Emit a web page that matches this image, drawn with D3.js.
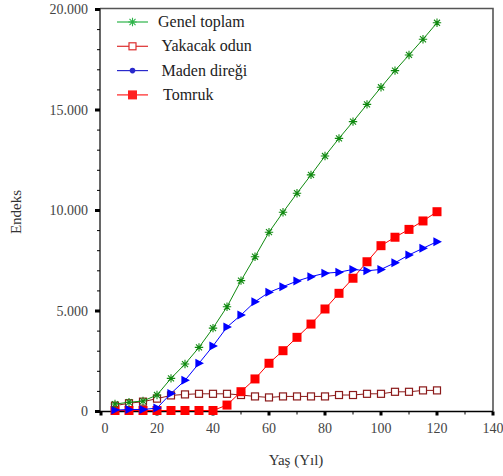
<!DOCTYPE html>
<html>
<head>
<meta charset="utf-8">
<script src="https://cdn.jsdelivr.net/npm/d3@7"></script>
<style>
  body { margin: 0; background: #fff; }
</style>
</head>
<body>
<div id="chart"></div>
<script>
  'use strict';

  var ages = [5, 10, 15, 20, 25, 30, 35, 40, 45, 50, 55, 60,
              65, 70, 75, 80, 85, 90, 95, 100, 105, 110, 115, 120];
  var genelToplam = [370, 460, 520, 820, 1650, 2360, 3190, 4150, 5210, 6510, 7700, 8920,
                     9910, 10860, 11770, 12710, 13590, 14420, 15280, 16130, 16960, 17740, 18520, 19340];
  var yakacakOdun = [290, 410, 490, 640, 800, 850, 880, 880, 880, 820, 750, 700,
                     750, 750, 750, 750, 820, 820, 880, 880, 980, 980, 1050, 1050];
  var madenDiregi = [70, 100, 100, 170, 900, 1550, 2400, 3260, 4200, 4800, 5460, 5930,
                     6210, 6490, 6710, 6880, 6930, 7070, 7000, 7070, 7400, 7790, 8120, 8450];
  var tomruk = [50, 50, 50, 50, 50, 50, 50, 50, 320, 985, 1620, 2400,
                3025, 3690, 4350, 5100, 5880, 6630, 7450, 8250, 8670, 9060, 9480, 9940];

  var xTicks = [0, 20, 40, 60, 80, 100, 120, 140];
  var yTicks = [0, 5000, 10000, 15000, 20000];

  var WIDTH = 503, HEIGHT = 476,
      LEFT = 100, RIGHT = 493, TOP = 9.5, BOTTOM = 411.5,
      FONT = 'Liberation Serif';

  var series = [
    { name: 'Genel toplam', values: genelToplam, color: '#108a10', legendColor: '#2eb44a', marker: 'star' },
    { name: 'Yakacak odun', values: yakacakOdun, color: '#8b1a1a', legendColor: '#dd2e2e', marker: 'openSquare' },
    { name: 'Maden direği', values: madenDiregi, color: '#0000ff', legendColor: '#2a2acc', marker: 'triangle', legendMarker: 'dot' },
    { name: 'Tomruk', values: tomruk, color: '#ff0000', legendColor: '#ff2020', marker: 'square' }
  ];

  var svg = d3.select('#chart').append('svg')
    .attr('width', WIDTH)
    .attr('height', HEIGHT);

  var x = d3.scaleLinear().domain([0, 140]).range([LEFT + 1, RIGHT]);
  var y = d3.scaleLinear().domain([0, 20000]).range([BOTTOM, TOP]);

  var fmt = d3.formatLocale({ decimal: ',', thousands: '.', grouping: [3], currency: ['', ''] }).format(',');

  // frame: top and right sides
  svg.append('path')
    .attr('d', 'M' + LEFT + ',' + (TOP - 1) + 'H' + RIGHT + 'V' + BOTTOM)
    .attr('fill', 'none')
    .attr('stroke', '#555')
    .attr('stroke-width', 1.6);

  // y axis: minor ticks every 1000, major every 5000
  var yAxis = svg.append('g').attr('transform', 'translate(' + LEFT + ',0)');
  yAxis.selectAll('line.minor')
    .data(d3.range(0, 20001, 1000))
    .enter().append('line')
    .attr('x1', -3).attr('x2', 0)
    .attr('y1', function (d) { return y(d); })
    .attr('y2', function (d) { return y(d); })
    .attr('stroke', '#000').attr('stroke-width', 1);
  yAxis.selectAll('rect.major')
    .data(yTicks)
    .enter().append('rect')
    .attr('x', -5).attr('width', 5)
    .attr('y', function (d) { return y(d) - 1.5; })
    .attr('height', 3)
    .attr('fill', '#000');
  yAxis.selectAll('text')
    .data(yTicks)
    .enter().append('text')
    .attr('x', -12)
    .attr('y', function (d) { return y(d); })
    .attr('dy', '0.35em')
    .attr('text-anchor', 'end')
    .attr('font-family', FONT)
    .attr('font-size', 14)
    .attr('fill', '#444')
    .text(function (d) { return fmt(d); });
  yAxis.append('line')
    .attr('x1', 0).attr('x2', 0)
    .attr('y1', TOP - 1).attr('y2', BOTTOM)
    .attr('stroke', '#000').attr('stroke-width', 1.2);

  // x axis
  var xAxis = svg.append('g').attr('transform', 'translate(0,' + BOTTOM + ')');
  xAxis.selectAll('line.minor')
    .data(d3.range(10, 140, 20))
    .enter().append('line')
    .attr('x1', function (d) { return x(d); })
    .attr('x2', function (d) { return x(d); })
    .attr('y1', 0).attr('y2', 3)
    .attr('stroke', '#000').attr('stroke-width', 1);
  xAxis.selectAll('rect.major')
    .data(xTicks)
    .enter().append('rect')
    .attr('x', function (d) { return x(d) - 1.5; })
    .attr('width', 3)
    .attr('y', 0).attr('height', 4)
    .attr('fill', '#000');
  xAxis.selectAll('text')
    .data(xTicks)
    .enter().append('text')
    .attr('x', function (d) { return x(d) + (d === 0 ? 4 : 0); })
    .attr('y', 17)
    .attr('dy', '0.35em')
    .attr('text-anchor', 'middle')
    .attr('font-family', FONT)
    .attr('font-size', 14)
    .attr('fill', '#444')
    .text(function (d) { return d; });
  xAxis.append('line')
    .attr('x1', LEFT - 4).attr('x2', RIGHT)
    .attr('y1', 0).attr('y2', 0)
    .attr('stroke', '#000').attr('stroke-width', 1.5);

  // axis titles
  svg.append('text')
    .attr('x', 296).attr('y', 460)
    .attr('dy', '0.35em')
    .attr('text-anchor', 'middle')
    .attr('font-family', FONT)
    .attr('font-size', 15)
    .attr('fill', '#333')
    .text('Yaş (Yıl)');
  svg.append('text')
    .attr('transform', 'translate(16,212) rotate(-90)')
    .attr('dy', '0.35em')
    .attr('text-anchor', 'middle')
    .attr('font-family', FONT)
    .attr('font-size', 15)
    .attr('fill', '#333')
    .text('Endeks');

  function drawMarker(g, type, color, size) {
    var h = size / 2;
    if (type === 'star') {
      var r = h * 1.05;
      g.append('path')
        .attr('d', 'M0,' + (-r) + 'V' + r +
                   'M' + (-r) + ',0H' + r +
                   'M' + (-r * 0.72) + ',' + (-r * 0.72) + 'L' + (r * 0.72) + ',' + (r * 0.72) +
                   'M' + (-r * 0.72) + ',' + (r * 0.72) + 'L' + (r * 0.72) + ',' + (-r * 0.72))
        .attr('stroke', color).attr('stroke-width', 1.1).attr('fill', 'none');
    } else if (type === 'openSquare') {
      g.append('rect')
        .attr('x', -h).attr('y', -h).attr('width', size).attr('height', size)
        .attr('fill', '#fff').attr('stroke', color).attr('stroke-width', 1.2);
    } else if (type === 'square') {
      g.append('rect')
        .attr('x', -h).attr('y', -h).attr('width', size).attr('height', size)
        .attr('fill', color);
    } else if (type === 'triangle') {
      g.append('path')
        .attr('d', 'M' + (-h * 0.8) + ',' + (-h) + 'L' + (h * 1.1) + ',0L' + (-h * 0.8) + ',' + h + 'Z')
        .attr('fill', color);
    } else if (type === 'dot') {
      g.append('circle').attr('r', h * 0.8).attr('fill', color);
    }
  }

  var markerSize = { star: 8, openSquare: 7, triangle: 9, square: 9, dot: 7 };

  var line = d3.line()
    .x(function (d) { return x(d[0]); })
    .y(function (d) { return y(d[1]); });

  // draw back to front: Yakacak, Tomruk, Maden, Genel
  [1, 3, 2, 0].forEach(function (si) {
    var s = series[si];
    var pts = ages.map(function (a, i) { return [a, s.values[i]]; });
    var g = svg.append('g');
    g.append('path')
      .datum(pts)
      .attr('d', line)
      .attr('fill', 'none')
      .attr('stroke', s.color)
      .attr('stroke-width', 1);
    g.selectAll('g.pt')
      .data(pts)
      .enter().append('g')
      .attr('transform', function (d) { return 'translate(' + x(d[0]) + ',' + y(d[1]) + ')'; })
      .each(function () {
        drawMarker(d3.select(this), s.marker, s.color, markerSize[s.marker]);
      });
  });

  // legend
  var legend = svg.append('g').attr('transform', 'translate(117,22)');
  series.forEach(function (s, i) {
    var row = legend.append('g').attr('transform', 'translate(0,' + (i * 24.3) + ')');
    row.append('line')
      .attr('x1', 0).attr('x2', 31)
      .attr('y1', 0).attr('y2', 0)
      .attr('stroke', s.legendColor).attr('stroke-width', 1.2);
    var m = row.append('g').attr('transform', 'translate(15.5,0)');
    var mt = s.legendMarker || s.marker;
    drawMarker(m, mt, s.legendColor, markerSize[mt]);
    row.append('text')
      .attr('x', [41, 44.5, 44.5, 46][i])
      .attr('y', 0)
      .attr('dy', '0.32em')
      .attr('font-family', FONT)
      .attr('font-size', 16)
      .attr('fill', '#222')
      .text(s.name);
  });
</script>
</body>
</html>
